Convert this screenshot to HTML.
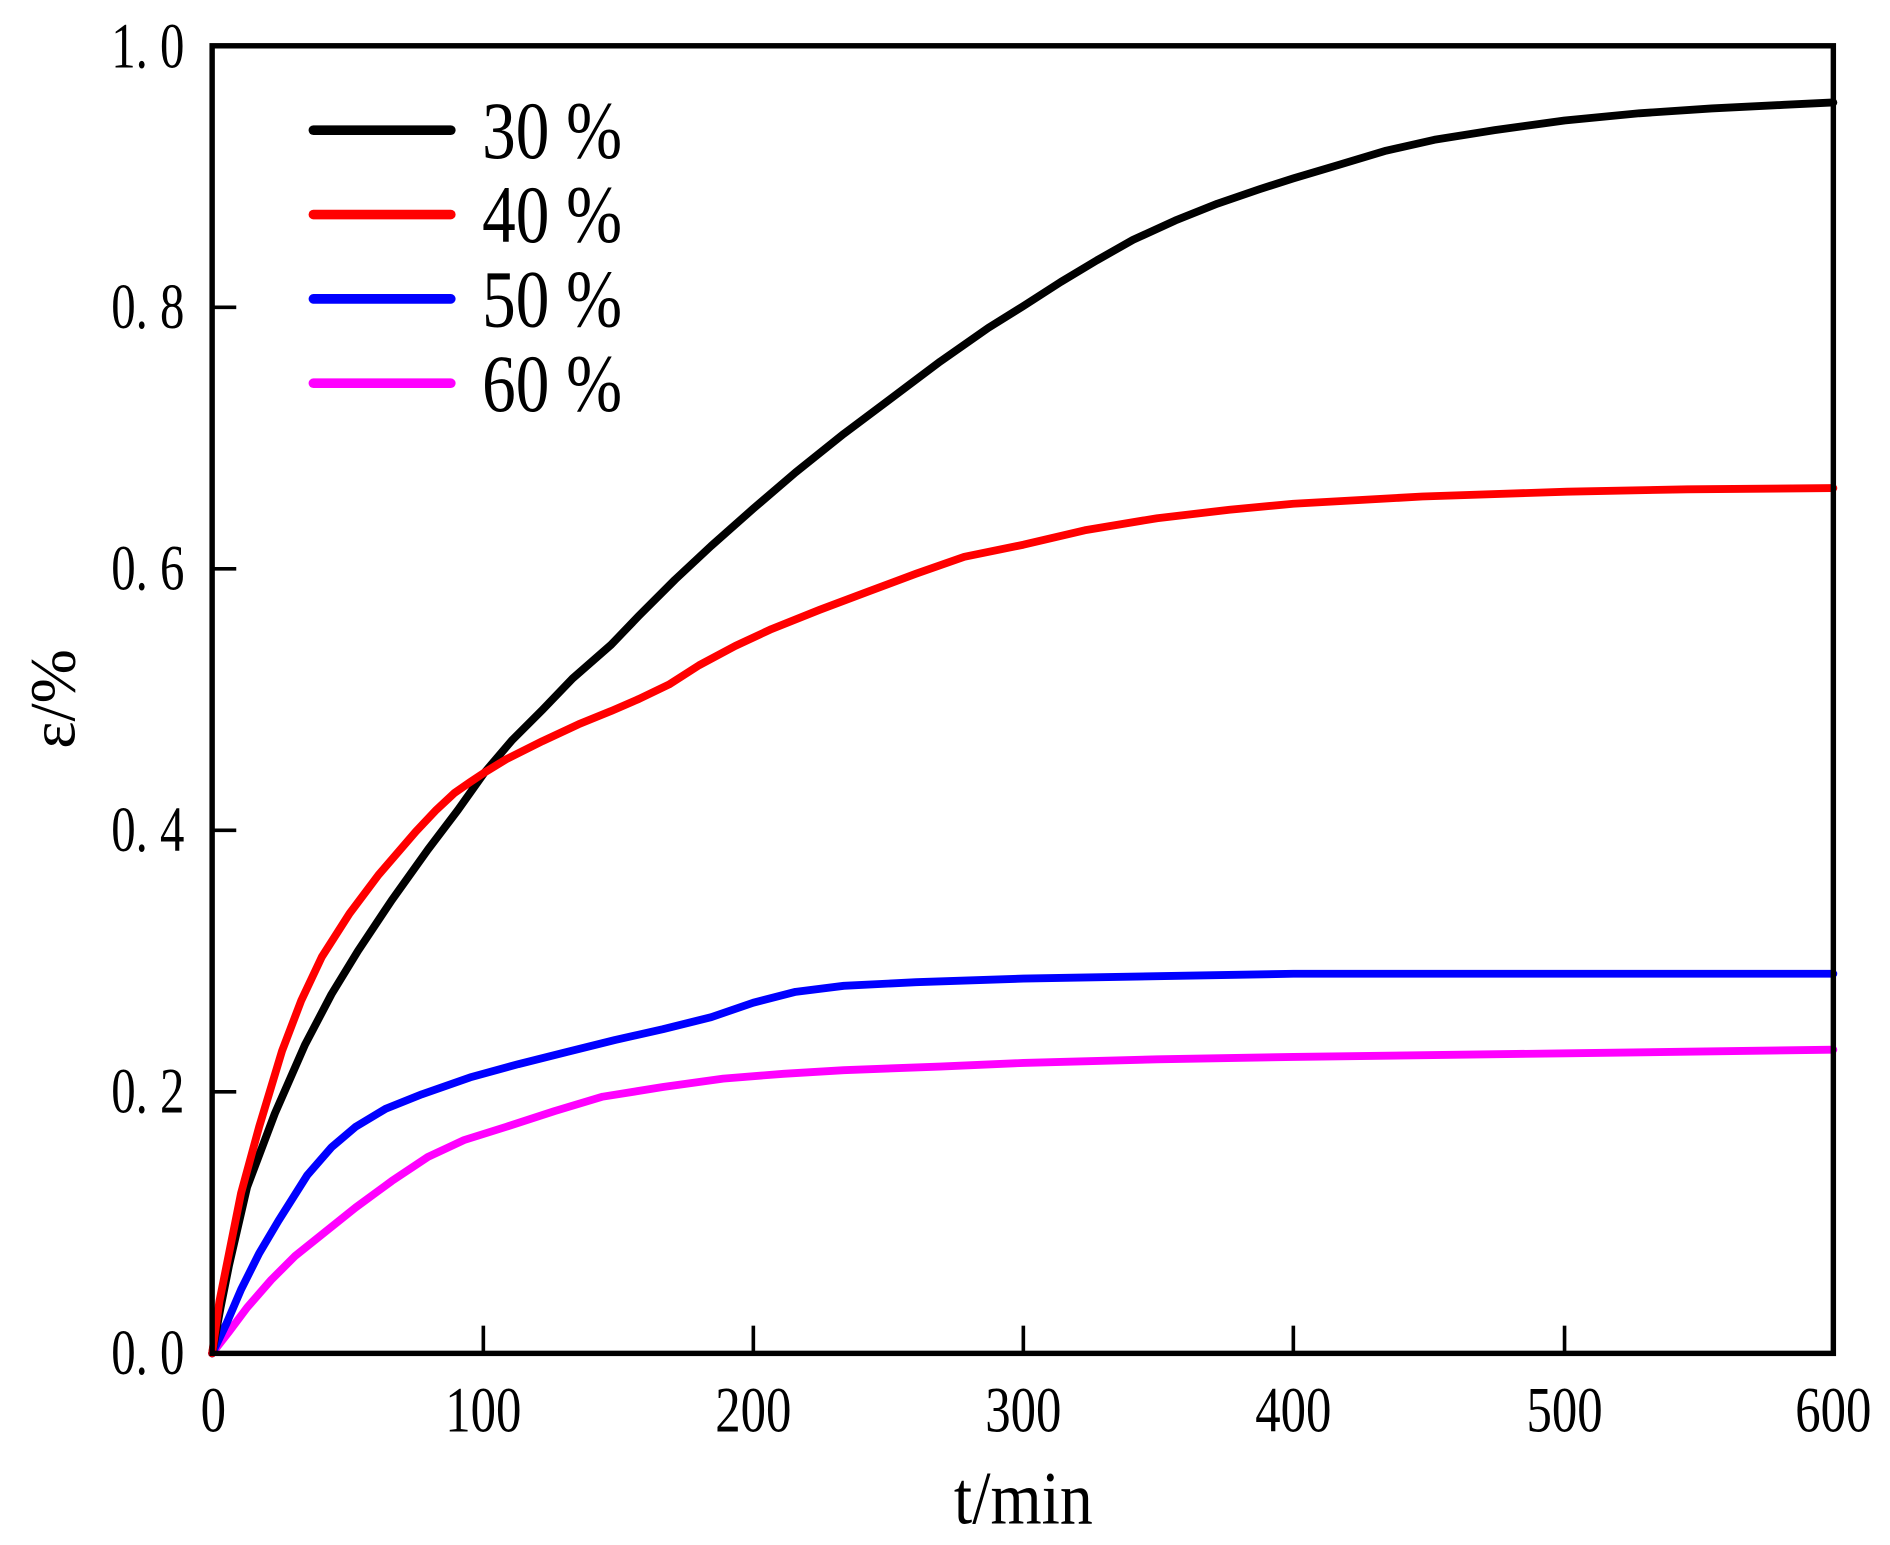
<!DOCTYPE html>
<html><head><style>html,body{margin:0;padding:0;background:#fff}svg{display:block}</style></head>
<body>
<svg width="1890" height="1545" viewBox="0 0 1568 1282" preserveAspectRatio="none" xmlns="http://www.w3.org/2000/svg" font-family="'Liberation Serif', serif">
<g fill="none" stroke-linecap="round" stroke-linejoin="round" stroke-width="6.5">
<polyline stroke="#ff00ff" points="176,1123 190,1105 205,1085 225,1062 245,1042 270,1022 295,1002 325,980 355,960 385,946 420,935 460,922 500,910 550,902 600,895 650,891 700,888 780,885 849,882 960,879 1073,877 1300,874 1521,871"/>
<polyline stroke="#0000ff" points="176,1123 188,1098 200,1070 215,1040 231,1013 255,975 275,952 295,935 320,920 350,908 390,894 430,883 470,873 510,863 550,854 590,844 625,832 660,823 700,818 760,815 849,812 960,810 1073,808 1300,808 1521,808"/>
<polyline stroke="#000000" points="176,1123 183,1085 190,1050 205,985 228,924 253,867 275,825 297,789 325,747 355,705 380,672 402,641 425,614 450,589 475,563 507,535 530,511 560,481 590,453 625,422 660,392 700,360 740,330 780,300 820,272 849,254 880,234 910,216 940,199 975,183 1010,169 1045,157 1073,148 1110,137 1150,125 1190,116 1240,108 1298,100 1360,94 1420,90 1480,87 1521,85"/>
<polyline stroke="#ff0000" points="176,1123 182,1080 190,1040 200,990 215,935 234,872 250,830 267,794 290,758 314,726 345,690 362,672 377,658 390,649 402,641 420,630 450,615 480,601 507,590 530,580 555,568 580,552 610,536 640,522 680,506 720,491 760,476 800,462 849,452 900,440 960,430 1020,423 1073,418 1180,412 1300,408 1400,406 1521,405"/>
</g>
<rect x="176" y="38" width="1345" height="1085" fill="none" stroke="#000" stroke-width="4.5"/>
<g stroke="#000" stroke-width="3">
<line x1="176" y1="906" x2="196" y2="906"/><line x1="176" y1="689" x2="196" y2="689"/><line x1="176" y1="472" x2="196" y2="472"/><line x1="176" y1="255" x2="196" y2="255"/>
<line x1="401" y1="1123" x2="401" y2="1100"/><line x1="625" y1="1123" x2="625" y2="1100"/><line x1="849" y1="1123" x2="849" y2="1100"/><line x1="1073" y1="1123" x2="1073" y2="1100"/><line x1="1298" y1="1123" x2="1298" y2="1100"/>
</g>
<g font-size="54" text-anchor="end" fill="#000">
<text transform="translate(153,1140) scale(0.75,1)">0. 0</text>
<text transform="translate(153,923) scale(0.75,1)">0. 2</text>
<text transform="translate(153,706) scale(0.75,1)">0. 4</text>
<text transform="translate(153,489) scale(0.75,1)">0. 6</text>
<text transform="translate(153,272) scale(0.75,1)">0. 8</text>
<text transform="translate(153,56) scale(0.75,1)">1. 0</text>
</g>
<g font-size="54" text-anchor="middle" fill="#000">
<text transform="translate(177,1188) scale(0.78,1)">0</text>
<text transform="translate(401,1188) scale(0.78,1)">100</text>
<text transform="translate(625,1188) scale(0.78,1)">200</text>
<text transform="translate(849,1188) scale(0.78,1)">300</text>
<text transform="translate(1073,1188) scale(0.78,1)">400</text>
<text transform="translate(1298,1188) scale(0.78,1)">500</text>
<text transform="translate(1521,1188) scale(0.78,1)">600</text>
</g>
<text transform="translate(849,1264) scale(0.88,1)" font-size="62" text-anchor="middle">t/min</text>
<text transform="translate(62,580) rotate(-90)" font-size="54" text-anchor="middle">ε/%</text>
<g stroke-width="8" stroke-linecap="round">
<line x1="260" y1="108" x2="374" y2="108" stroke="#000"/>
<line x1="260" y1="178" x2="374" y2="178" stroke="#ff0000"/>
<line x1="260" y1="248" x2="374" y2="248" stroke="#0000ff"/>
<line x1="260" y1="318" x2="374" y2="318" stroke="#ff00ff"/>
</g>
<g font-size="68" fill="#000">
<text transform="translate(400,131) scale(0.82,1)">30 %</text>
<text transform="translate(400,201) scale(0.82,1)">40 %</text>
<text transform="translate(400,271) scale(0.82,1)">50 %</text>
<text transform="translate(400,341) scale(0.82,1)">60 %</text>
</g>
</svg>
</body></html>
